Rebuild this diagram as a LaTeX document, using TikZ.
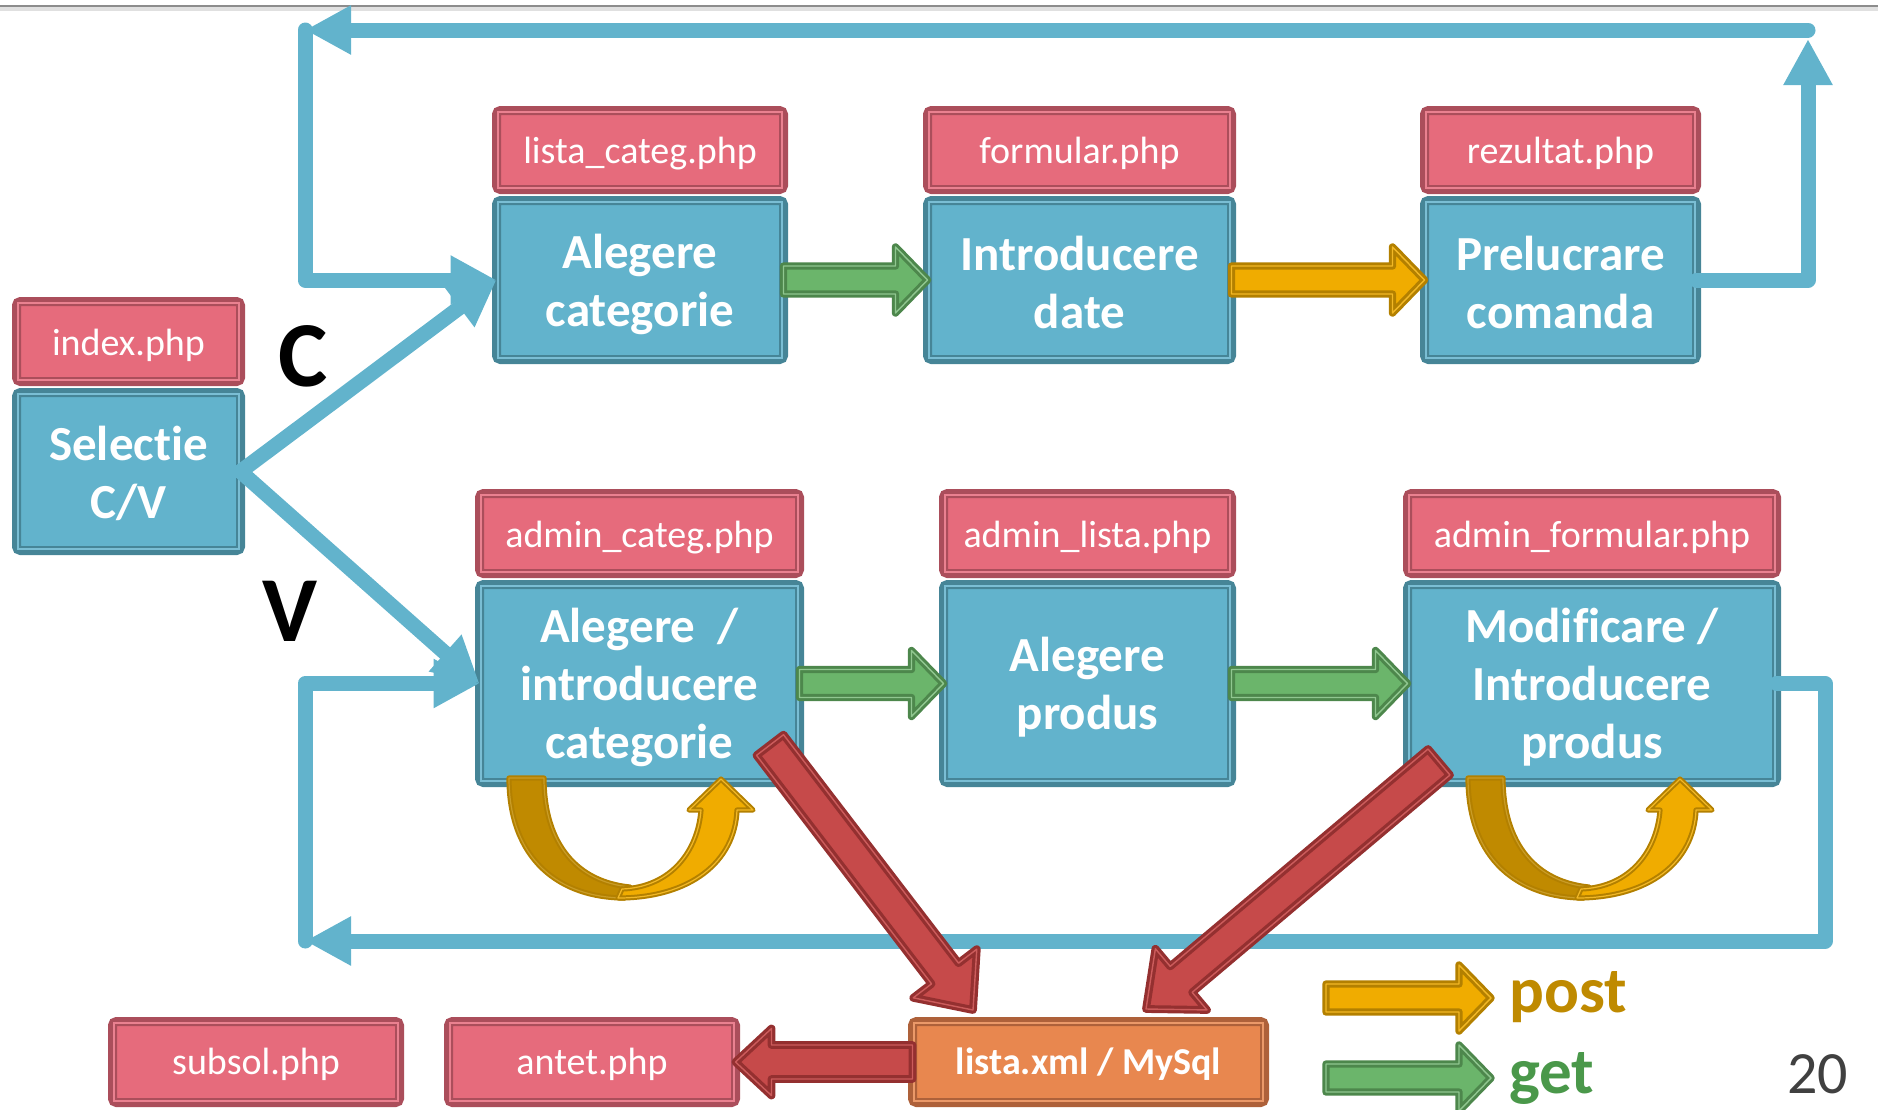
\documentclass[tikz,border=0pt]{standalone}
\usepackage{fontspec}
\setmainfont{Carlito}[Ligatures=NoCommon]
\usetikzlibrary{arrows.meta,calc}
\definecolor{bfill}{HTML}{62B3CC}
\definecolor{bdark}{HTML}{468597}
\definecolor{rfill}{HTML}{E66B7C}
\definecolor{rdark}{HTML}{AB4E5B}
\definecolor{ofill}{HTML}{E8874F}
\definecolor{odark}{HTML}{AE613A}
\definecolor{afill}{HTML}{C64A4A}
\definecolor{adark}{HTML}{943030}
\definecolor{gfill}{HTML}{6BB56B}
\definecolor{gdark}{HTML}{4D874C}
\definecolor{yfill}{HTML}{F0AC00}
\definecolor{ydark}{HTML}{B38000}
\definecolor{yback}{HTML}{C08A00}
\definecolor{posttxt}{HTML}{BF8A00}
\definecolor{gettxt}{HTML}{4A984A}
\newcommand{\blockarrowx}[6]{%
  \coordinate (bah) at ($(#3)!#6!(#2)$);
  \filldraw[#1] ($(#2)!#4!90:(#3)$) -- ($(bah)!#4!-90:(#2)$) -- ($(bah)!#5!-90:(#2)$) -- (#3)
    -- ($(bah)!#5!90:(#2)$) -- ($(bah)!#4!90:(#2)$) -- ($(#2)!#4!-90:(#3)$) -- cycle;}
\newcommand{\uturnarrow}[1]{%
  \begin{scope}[shift={(#1,0)}]
    \filldraw[uback] (509,778) .. controls (509,860) and (560,898) .. (625,898) -- (630,887)
      .. controls (578,882) and (544,845) .. (544,778) -- cycle;
    \filldraw[ufront] (618,898) .. controls (690,898) and (735,862) .. (737,810) -- (753,810)
      -- (721,779) -- (689,810) -- (701,810) .. controls (698,850) and (672,887) .. (622,889) -- cycle;
  \end{scope}}
\begin{document}
\begin{tikzpicture}[x=0.5pt,y=-0.5pt,
  box/.style={rectangle, rounded corners=2pt, outer sep=0pt, inner sep=0pt, line width=4.5pt},
  rbox/.style={box, fill=rfill, draw=rdark},
  bbox/.style={box, fill=bfill, draw=bdark},
  obox/.style={box, fill=ofill, draw=odark},
  rtext/.style={inner sep=0pt, text=white, align=center, font=\fontsize{19pt}{22pt}\selectfont},
  btext/.style={inner sep=0pt, text=white, align=center, font=\bfseries\fontsize{24.5pt}{29pt}\selectfont},
  otext/.style={inner sep=0pt, text=white, align=center, font=\bfseries\fontsize{19pt}{22pt}\selectfont},
  conn/.style={draw=bfill, line width=7.5pt, line join=round, line cap=round},
  tri/.style={-{Triangle[width=23pt,length=23pt]}},
  garr/.style={fill=gfill, draw=gdark, line width=1.5pt, double=gfill!75!white, double distance=0.7pt, line join=round},
  yarr/.style={fill=yfill, draw=ydark, line width=1.5pt, double=yfill!85!white, double distance=0.7pt, line join=round},
  rarr/.style={fill=afill, draw=adark, line width=1.6pt, double=afill!90!white, double distance=0.7pt, line join=round},
  uback/.style={fill=yback, draw=ydark, line width=1pt, double=yback!85!white, double distance=0.6pt, line join=round},
  ufront/.style={fill=yfill, draw=ydark, line width=1pt, double=yfill!85!white, double distance=0.6pt, line join=round},
  bigletter/.style={font=\bfseries\fontsize{46.5pt}{50pt}\selectfont, inner sep=0pt},
  legendtxt/.style={anchor=base west, inner sep=0pt, font=\bfseries\fontsize{32.5pt}{36pt}\selectfont}
]
\useasboundingbox (0,0) rectangle (1878,1109);
% top rule
\draw[black!12, line width=2pt] (0,9) -- (1878,9);
\draw[black!45, line width=1pt] (0,5.5) -- (1878,5.5);

% coordinates for connectors
\coordinate (tr) at (1808,30);
\coordinate (tl) at (305,30);
\coordinate (br) at (1825,941);
\coordinate (bl) at (305,941);

% boxes
\node[rbox, minimum width=112pt, minimum height=40pt] (r0) at (128.5,341.5) {};
\node[bbox, minimum width=112pt, minimum height=79pt] (b0) at (128.5,471.5) {};
\node[rbox, minimum width=143.5pt, minimum height=39.5pt] (r1) at (640,150) {};
\node[bbox, minimum width=143.5pt, minimum height=79.5pt] (b1) at (640,280) {};
\node[rbox, minimum width=152pt, minimum height=39.5pt] (r2) at (1079.5,150) {};
\node[bbox, minimum width=152pt, minimum height=79.5pt] (b2) at (1079.5,280) {};
\node[rbox, minimum width=136pt, minimum height=39.5pt] (r3) at (1560.5,150) {};
\node[bbox, minimum width=136pt, minimum height=79.5pt] (b3) at (1560.5,280) {};
\node[rbox, minimum width=160pt, minimum height=40pt] (r4) at (639.5,533.5) {};
\node[bbox, minimum width=160pt, minimum height=99pt] (b4) at (639.5,683.5) {};
\node[rbox, minimum width=144pt, minimum height=40pt] (r5) at (1087.5,533.5) {};
\node[bbox, minimum width=144pt, minimum height=99pt] (b5) at (1087.5,683.5) {};
\node[rbox, minimum width=184.5pt, minimum height=40pt] (r6) at (1592,533.5) {};
\node[bbox, minimum width=184.5pt, minimum height=99pt] (b6) at (1592,683.5) {};
\node[rbox, minimum width=143.5pt, minimum height=40.5pt] (ss) at (256,1062) {};
\node[rbox, minimum width=143.5pt, minimum height=40.5pt] (an) at (592,1062) {};
\node[obox, minimum width=176pt, minimum height=40.5pt] (li) at (1088.5,1062) {};

% inner lines of the boxes
\foreach \n/\c in {r0/rfill,b0/bfill,r1/rfill,b1/bfill,r2/rfill,b2/bfill,r3/rfill,b3/bfill,
                   r4/rfill,b4/bfill,r5/rfill,b5/bfill,r6/rfill,b6/bfill,ss/rfill,an/rfill,li/ofill}
  \draw[\c!85!white, line width=1pt] ([shift={(1.5,1.5)}]\n.north west) rectangle ([shift={(-1.5,-1.5)}]\n.south east);

% box texts
\node[rtext] (t0) at ([yshift=-1.8pt]r0.center) {index.php};
\node[btext] (u0) at ([yshift=-1pt]b0.center) {Selectie\\C/V};
\node[rtext] (t1) at ([yshift=-1.8pt]r1.center) {lista\_categ.php};
\node[btext] (u1) at ([yshift=-2pt]b1.center) {Alegere\\categorie};
\node[rtext] (t2) at ([yshift=-1.8pt]r2.center) {formular.php};
\node[btext] (u2) at ([yshift=-1pt]b2.center) {Introducere\\date};
\node[rtext] (t3) at ([yshift=-1.8pt]r3.center) {rezultat.php};
\node[btext] (u3) at ([yshift=-1pt]b3.center) {Prelucrare\\comanda};
\node[rtext] (t4) at ([yshift=-1.8pt]r4.center) {admin\_categ.php};
\node[btext] (u4) at ([yshift=-2pt]b4.center) {Alegere\ \ /\\introducere\\categorie};
\node[rtext] (t5) at ([yshift=-1.8pt]r5.center) {admin\_lista.php};
\node[btext] (u5) at ([yshift=-2pt]b5.center) {Alegere\\produs};
\node[rtext] (t6) at ([yshift=-1.8pt]r6.center) {admin\_formular.php};
\node[btext] (u6) at ([yshift=-2pt]b6.center) {Modificare /\\Introducere\\produs};
\node[rtext] (t7) at ([yshift=-1.2pt]ss.center) {subsol.php};
\node[rtext] (t8) at ([yshift=-1.2pt]an.center) {antet.php};
\node[otext] (t9) at ([yshift=-1.2pt]li.center) {lista.xml / MySql};

% blue connectors
\draw[conn,tri] (b3.east) -| ($(tr)+(0,9)$);
\draw[conn,tri] (tr) -- (tl);
\draw[conn,tri] (tl) |- (b1.west);
\draw[conn,tri] (b0.east) -- (b1.west);
\draw[conn,tri] (b0.east) -- (b4.west);
\draw[conn,tri] (b6.east) -| (br) -- (bl);
\draw[conn,tri] (bl) |- (b4.west);

% get / post block arrows between boxes
\blockarrowx{garr}{b1.east}{b2.west}{7pt}{16.5pt}{16pt}
\blockarrowx{yarr}{b2.east}{b3.west}{7pt}{16.5pt}{16pt}
\blockarrowx{garr}{b4.east}{b5.west}{7pt}{16.5pt}{16pt}
\blockarrowx{garr}{b5.east}{b6.west}{7pt}{16.5pt}{16pt}

% u-turn post arrows
\uturnarrow{0}
\uturnarrow{959}

% red arrows to the data store
\coordinate (r1a) at (770,745);
\coordinate (r1b) at (973,1010);
\coordinate (r2a) at (1439,762);
\coordinate (r2b) at (1146,1009);
\blockarrowx{rarr}{r1a}{r1b}{8.5pt}{20pt}{23pt}
\blockarrowx{rarr}{r2a}{r2b}{8.5pt}{20pt}{23pt}
\blockarrowx{rarr}{li.west}{an.east}{8.5pt}{16.75pt}{18pt}

% labels
\node[bigletter] (lc) at (303,356) {C};
\node[bigletter] (lv) at (290,611) {V};

% legend
\coordinate (lp1) at (1326,998);
\coordinate (lp2) at (1491,998);
\coordinate (lg1) at (1326,1078);
\coordinate (lg2) at (1491,1078);
\blockarrowx{yarr}{lp1}{lp2}{7pt}{16.5pt}{16pt}
\blockarrowx{garr}{lg1}{lg2}{7pt}{16.5pt}{16pt}
\node[legendtxt, text=posttxt] (post) at (1509,1012) {post};
\node[legendtxt, text=gettxt] (get) at (1509,1093) {get};
\node[anchor=base west, inner sep=0pt, text=black!75, font=\fontsize{30pt}{34pt}\selectfont] (pg) at (1787,1093) {20};
\end{tikzpicture}
\end{document}
